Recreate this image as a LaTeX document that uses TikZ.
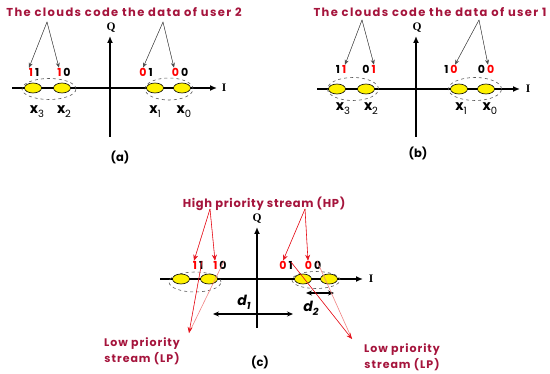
\documentclass[tikz,border=0pt]{standalone}
\usepackage{fontspec}
\setmainfont{Liberation Serif}
\setsansfont{Poppins}
\newfontfamily\ttlA{Poppins}[LetterSpace=12]
\newfontfamily\ttlC{Poppins}[LetterSpace=6]
\newfontfamily\ttlL{Poppins}[LetterSpace=9]
\usetikzlibrary{shapes.geometric,arrows.meta}
\definecolor{tred}{RGB}{165,20,60}
\definecolor{pred}{RGB}{230,20,30}
\definecolor{pink}{RGB}{240,130,130}
\newcommand{\xl}[1]{x\raisebox{-0.5ex}{\fontsize{10}{10}\selectfont\mdseries #1}}
\newcommand{\R}[1]{\textcolor{red}{#1}}
\newcommand{\dg}[2]{#1\hspace{2pt}#2}
\begin{document}
\begin{tikzpicture}[x=1pt,y=-1pt,
  ttl/.style={font=\ttlA\bfseries\fontsize{11.5}{12}\selectfont,text=tred,inner sep=0pt},
  dig/.style={font=\sffamily\bfseries\fontsize{11}{11}\selectfont,inner sep=1pt},
  xlab/.style={font=\sffamily\bfseries\fontsize{14}{14}\selectfont,inner sep=0pt},
  axl/.style={font=\rmfamily\bfseries\fontsize{11.5}{12}\selectfont,inner sep=0pt},
  captxt/.style={font=\sffamily\bfseries\fontsize{11.5}{11}\selectfont,inner sep=0pt},
  pt/.style={ellipse,draw=black,line width=0.6pt,fill=yellow,minimum width=17pt,minimum height=10pt,inner sep=0pt},
  cloudell/.style={ellipse,draw=gray!70!black,dashed,line width=0.6pt,inner sep=0pt},
  axis/.style={line width=1.7pt,-{Latex[length=7pt,width=6pt]}},
  garr/.style={draw=gray!60!black,line width=0.5pt,-{Stealth[length=5pt,width=4pt]},fill=black},
  rarr/.style={draw=pred,line width=0.6pt,-{Stealth[length=6pt,width=5pt]},fill=pred},
  parr/.style={draw=pink,line width=0.6pt},
  dfont/.style={font=\sffamily\bfseries\itshape\fontsize{14}{14}\selectfont,inner sep=0pt},
  darr/.style={line width=1.1pt,{Stealth[length=6pt,width=5pt]}-{Stealth[length=6pt,width=5pt]}}]
\useasboundingbox (0,0) rectangle (550,374);

%% ---------------- panel (a)
\node[ttl] (ta) at (124,12) {The clouds code the data of user 2};
\coordinate (aLs) at (12,88); \coordinate (aLe) at (217,88);
\coordinate (aVs) at (110,137); \coordinate (aVe) at (110,36);
\draw[axis] (aLs) -- (aLe);
\draw[axis] (aVs) -- (aVe);
\node[axl] (aI) at (224,88) {I};
\node[axl] (aQ) at (111,28) {Q};
\node[cloudell,minimum width=54pt,minimum height=21pt] (ac1) at (49,89) {};
\node[cloudell,minimum width=48pt,minimum height=22pt] (ac2) at (169,89) {};
\node[pt] (a3) at (33,88) {};
\node[pt] (a2) at (62,88) {};
\node[pt] (a1) at (155,88) {};
\node[pt] (a0) at (182,88) {};
\node[dig] (la3) at (34,72) {\dg{\R{1}}{1}};
\node[dig] (la2) at (64,72) {\dg{\R{1}}{0}};
\node[dig] (la1) at (146,72) {\dg{\R{0}}{1}};
\node[dig] (la0) at (180,72) {\dg{\R{0}}{0}};
\coordinate (taL) at (47,22); \coordinate (taR) at (163,22);
\draw[garr] (taL) -- ([xshift=-5pt,yshift=-1pt]la3.north);
\draw[garr] (taL) -- ([xshift=-5pt,yshift=-1pt]la2.north);
\draw[garr] (taR) -- ([xshift=-3pt,yshift=-1pt]la1.north);
\draw[garr] (taR) -- ([xshift=-6pt,yshift=-1pt]la0.north);
\node[xlab] (xa3) at (37,112) {\xl{3}};
\node[xlab] (xa2) at (64,112) {\xl{2}};
\node[xlab] (xa1) at (155,112) {\xl{1}};
\node[xlab] (xa0) at (184,112) {\xl{0}};
\node[captxt] (capa) at (120,157) {(a)};

%% ---------------- panel (b)
\node[ttl] (tb) at (430,12) {The clouds code the data of user 1};
\coordinate (bLs) at (317,89); \coordinate (bLe) at (520,89);
\coordinate (bVs) at (416,137); \coordinate (bVe) at (416,36);
\draw[axis] (bLs) -- (bLe);
\draw[axis] (bVs) -- (bVe);
\node[axl] (bI) at (528,89) {I};
\node[axl] (bQ) at (417,28) {Q};
\node[cloudell,minimum width=51pt,minimum height=23pt] (bc1) at (353,89) {};
\node[cloudell,minimum width=53pt,minimum height=23pt] (bc2) at (475,89) {};
\node[pt] (b3) at (337,89) {};
\node[pt] (b2) at (366,89) {};
\node[pt] (b1) at (459,89) {};
\node[pt] (b0) at (486,89) {};
\node[dig] (lb3) at (341,69) {\dg{1}{\R{1}}};
\node[dig] (lb2) at (369,69) {\dg{0}{\R{1}}};
\node[dig] (lb1) at (451,69) {\dg{1}{\R{0}}};
\node[dig] (lb0) at (486,69) {\dg{0}{\R{0}}};
\coordinate (tbL) at (362,20); \coordinate (tbR) at (479,20);
\draw[garr] (tbL) -- ([xshift=4pt,yshift=-1pt]lb3.north);
\draw[garr] (tbL) -- ([xshift=5pt,yshift=-1pt]lb2.north);
\draw[garr] (tbR) -- ([xshift=4pt,yshift=-1pt]lb1.north);
\draw[garr] (tbR) -- ([xshift=2pt,yshift=-1pt]lb0.north);
\node[xlab] (xb3) at (343,109) {\xl{3}};
\node[xlab] (xb2) at (371,109) {\xl{2}};
\node[xlab] (xb1) at (461,109) {\xl{1}};
\node[xlab] (xb0) at (490,109) {\xl{0}};
\node[captxt] (capb) at (418,153) {(b)};

%% ---------------- panel (c)
\node[ttl,font=\ttlC\bfseries\fontsize{11.5}{12}\selectfont] (tc) at (264,204) {High priority stream (HP)};
\coordinate (cLs) at (160,279); \coordinate (cLe) at (363,279);
\coordinate (cVs) at (257,328); \coordinate (cVe) at (257,227);
\draw[axis] (cLs) -- (cLe);
\draw[axis] (cVs) -- (cVe);
\node[axl] (cI) at (371,279) {I};
\node[axl] (cQ) at (257,219) {Q};
\node[cloudell,minimum width=52pt,minimum height=20pt] (cc1) at (195,282) {};
\node[cloudell,minimum width=48pt,minimum height=17pt] (cc2) at (316,280) {};
\node[pt] (c3) at (181,279) {};
\node[pt] (c2) at (209,279) {};
\node[pt] (c1) at (303,279) {};
\node[pt] (c0) at (329,279) {};
\node[dig] (lc3) at (198,265) {\dg{\R{1}}{1}};
\node[dig] (lc2) at (220,265) {\dg{\R{1}}{0}};
\node[dig] (lc1) at (286,265) {\dg{\R{0}}{1}};
\node[dig] (lc0) at (313,265) {\dg{\R{0}}{0}};
\coordinate (tcL) at (210,209); \coordinate (tcR) at (305,209);
\draw[rarr] (tcL) -- ([xshift=-4pt,yshift=-1pt]lc3.north);
\draw[rarr] (tcL) -- ([xshift=-5pt,yshift=-1pt]lc2.north);
\draw[rarr] (tcR) -- ([xshift=-3pt,yshift=-1pt]lc1.north);
\draw[rarr] (tcR) -- ([xshift=-5pt,yshift=-1pt]lc0.north);
% distances
\coordinate (d1s) at (213,314); \coordinate (d1e) at (293,314);
\draw[darr] (d1s) -- (d1e);
\node[dfont] (d1l) at (244,302) {d\raisebox{-0.5ex}{\fontsize{10}{10}\selectfont 1}};
\coordinate (d2s) at (306,293); \coordinate (d2e) at (334,293);
\draw[darr] (d2s) -- (d2e);
\node[dfont] (d2l) at (311,308) {d\raisebox{-0.5ex}{\fontsize{10}{10}\selectfont 2}};
% low priority
\node[ttl,align=center,font=\ttlL\bfseries\fontsize{11}{16.5}\selectfont] (lpl) at (142,351) {Low priority\\stream (LP)};
\node[ttl,align=center,font=\ttlL\bfseries\fontsize{11}{16.5}\selectfont] (lpr) at (402,357) {Low priority\\stream (LP)};
\coordinate (lplt) at (189,333); \coordinate (lprt) at (352,339);
\draw[parr] ([xshift=4pt,yshift=4pt]lc2.center) -- (lplt);
\draw[rarr] ([xshift=4pt,yshift=4pt]lc3.center) -- (lplt);
\draw[parr] ([xshift=4pt,yshift=4pt]lc0.center) -- (lprt);
\draw[rarr] ([xshift=5pt,yshift=3pt]lc1.center) -- (lprt);
\node[captxt] (capc) at (260,362) {(c)};
\end{tikzpicture}
\end{document}
